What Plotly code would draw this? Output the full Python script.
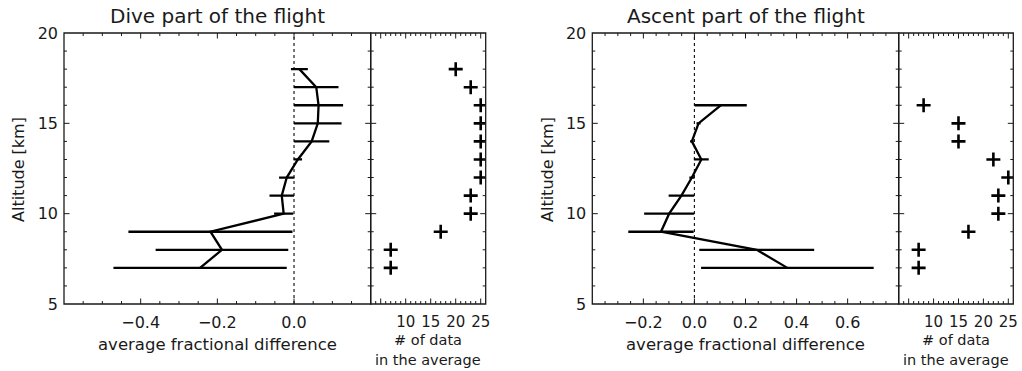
import numpy as np
import plotly.graph_objects as go

# Altitude levels [km]
dive_alt = [18, 17, 16, 15, 14, 13, 12, 11, 10, 9, 8, 7]
ascent_alt = [16, 15, 14, 13, 12, 11, 10, 9, 8, 7]

# Dive: mean fractional difference, half-width of the spread, number of points
dive_mean = [0.014, 0.058, 0.064, 0.062, 0.046, 0.010, -0.019, -0.032, -0.027, -0.218, -0.188, -0.245]
dive_err = [0.022, 0.058, 0.064, 0.062, 0.046, 0.011, 0.020, 0.032, 0.025, 0.214, 0.173, 0.226]
dive_n = [20, 23, 25, 25, 25, 25, 25, 23, 23, 17, 7, 7]

# Ascent
ascent_mean = [0.103, 0.016, -0.010, 0.027, -0.010, -0.051, -0.099, -0.131, 0.244, 0.364]
ascent_err = [0.102, 0.008, 0.007, 0.029, 0.010, 0.050, 0.098, 0.128, 0.225, 0.338]
ascent_n = [8, 15, 15, 22, 25, 23, 23, 17, 7, 7]

# Axis ranges and tick labels
alt_range = [5, 20]
alt_ticks = [5, 10, 15, 20]
dive_range = [-0.6, 0.2]
dive_ticks = [-0.6, -0.4, -0.2, 0.0, 0.2]
dive_ticktext = ["", "\u22120.4", "\u22120.2", "0.0", ""]
ascent_range = [-0.4, 0.8]
ascent_ticks = [-0.4, -0.2, 0.0, 0.2, 0.4, 0.6, 0.8]
ascent_ticktext = ["", "\u22120.2", "0.0", "0.2", "0.4", "0.6", ""]
count_range = [3, 26]
count_ticks = [5, 10, 15, 20, 25]
count_ticktext = ["", "10", "15", "20", "25"]

W, H = 1022, 371
FONT = "DejaVu Sans"
INK = "#1a1a1a"


def fx(px):
    return px / W


def fy(py):
    return 1 - py / H


y_dom = [fy(304), fy(33)]
panels = {
    "main_l": [fx(64), fx(370.7)],
    "cnt_l": [fx(370.7), fx(485.7)],
    "main_r": [fx(592.3), fx(898.7)],
    "cnt_r": [fx(898.7), fx(1013.3)],
}

fig = go.Figure()


def profile(mean, err, alt, xa, ya):
    fig.add_trace(go.Scatter(
        x=mean, y=alt, mode="lines", xaxis=xa, yaxis=ya,
        line=dict(color="black", width=2.3),
        error_x=dict(type="data", array=err, symmetric=True, width=0,
                     thickness=2.3, color="black"),
        showlegend=False, hoverinfo="skip"))


def counts(n, alt, xa, ya):
    fig.add_trace(go.Scatter(
        x=n, y=alt, mode="markers", xaxis=xa, yaxis=ya,
        marker=dict(symbol="cross-thin", size=10, color="black",
                    line=dict(color="black", width=2.6)),
        showlegend=False, hoverinfo="skip"))


profile(dive_mean, dive_err, dive_alt, "x", "y")
counts(dive_n, dive_alt, "x2", "y2")
profile(ascent_mean, ascent_err, ascent_alt, "x3", "y3")
counts(ascent_n, ascent_alt, "x4", "y4")


def xaxis(dom, rng, tickvals, ticktext, anchor, size):
    return dict(domain=dom, range=rng, anchor=anchor, automargin=False,
                showline=False, ticks="", showgrid=False, zeroline=False,
                tickfont=dict(family=FONT, size=size, color=INK),
                tickmode="array", tickvals=tickvals, ticktext=ticktext,
                ticklabelstandoff=7)


def yaxis(anchor, labels):
    return dict(domain=y_dom, range=alt_range, anchor=anchor, automargin=False,
                showline=False, ticks="", showgrid=False, zeroline=False,
                tickfont=dict(family=FONT, size=16, color=INK),
                tickmode="array", tickvals=alt_ticks,
                showticklabels=labels, ticklabelstandoff=5)


fig.update_layout(
    template="none",
    width=W, height=H,
    margin=dict(l=0, r=0, t=0, b=0, pad=0),
    paper_bgcolor="white", plot_bgcolor="white",
    xaxis=xaxis(panels["main_l"], dive_range, dive_ticks, dive_ticktext, "y", 16),
    yaxis=yaxis("x", True),
    xaxis2=xaxis(panels["cnt_l"], count_range, count_ticks, count_ticktext, "y2", 15),
    yaxis2=yaxis("x2", False),
    xaxis3=xaxis(panels["main_r"], ascent_range, ascent_ticks, ascent_ticktext, "y3", 16),
    yaxis3=yaxis("x3", True),
    xaxis4=xaxis(panels["cnt_r"], count_range, count_ticks, count_ticktext, "y4", 15),
    yaxis4=yaxis("x4", False),
)

# Zero reference lines in the difference panels
for xr, yr in (("x", "y"), ("x3", "y3")):
    fig.add_shape(type="line", xref=xr, yref=yr, x0=0, x1=0,
                  y0=alt_range[0], y1=alt_range[1],
                  line=dict(color=INK, width=1.2, dash="dot"), layer="below")

MAJOR_LEN, MINOR_LEN = 5.5, 3.0


def tick_positions(rng, step):
    vals = np.arange(rng[0], rng[1] + step / 2, step)
    return [round(float(v), 6) for v in vals
            if rng[0] + 1e-9 < v < rng[1] - 1e-9]


def is_major(v, step):
    return abs(v / step - round(v / step)) < 1e-6


def frame_with_ticks(xr, yr, xrng, x_major, x_minor):
    tick_line = dict(color=INK, width=1)
    # ticks along bottom and top edges, pointing inward
    for v in tick_positions(xrng, x_minor):
        ln = MAJOR_LEN if is_major(v, x_major) else MINOR_LEN
        for anchor, sgn in ((alt_range[0], 1), (alt_range[1], -1)):
            fig.add_shape(type="line", xref=xr, yref=yr, x0=v, x1=v,
                          ysizemode="pixel", yanchor=anchor, y0=0, y1=sgn * ln,
                          line=tick_line)
    # ticks along left and right edges, pointing inward
    for v in tick_positions(alt_range, 1):
        ln = MAJOR_LEN if is_major(v, 5) else MINOR_LEN
        for anchor, sgn in ((xrng[0], 1), (xrng[1], -1)):
            fig.add_shape(type="line", xref=xr, yref=yr, y0=v, y1=v,
                          xsizemode="pixel", xanchor=anchor, x0=0, x1=sgn * ln,
                          line=tick_line)
    fig.add_shape(type="rect", xref=f"{xr} domain", yref=f"{yr} domain",
                  x0=0, x1=1, y0=0, y1=1, line=dict(color=INK, width=1.3))


frame_with_ticks("x", "y", dive_range, 0.2, 0.05)
frame_with_ticks("x2", "y2", count_range, 5, 1)
frame_with_ticks("x3", "y3", ascent_range, 0.2, 0.05)
frame_with_ticks("x4", "y4", count_range, 5, 1)


def text(x, y, s, size=16, angle=0, yanchor="middle"):
    fig.add_annotation(x=fx(x), y=fy(y), xref="paper", yref="paper", text=s,
                       showarrow=False, textangle=angle, xanchor="center",
                       yanchor=yanchor, align="center",
                       font=dict(family=FONT, size=size, color=INK))


text(217, 16, "Dive part of the flight", size=20)
text(745.5, 16, "Ascent part of the flight", size=20)
text(18, 170, "Altitude [km]", angle=-90)
text(547, 170, "Altitude [km]", angle=-90)
text(217, 344, "average fractional difference", size=16.5)
text(745.5, 344, "average fractional difference", size=16.5)
for cx in (428, 956):
    text(cx, 350, "# of data", size=14.5, yanchor="bottom")
    text(cx, 350, "in the average", size=14.5, yanchor="top")

fig.write_html("out.html")
